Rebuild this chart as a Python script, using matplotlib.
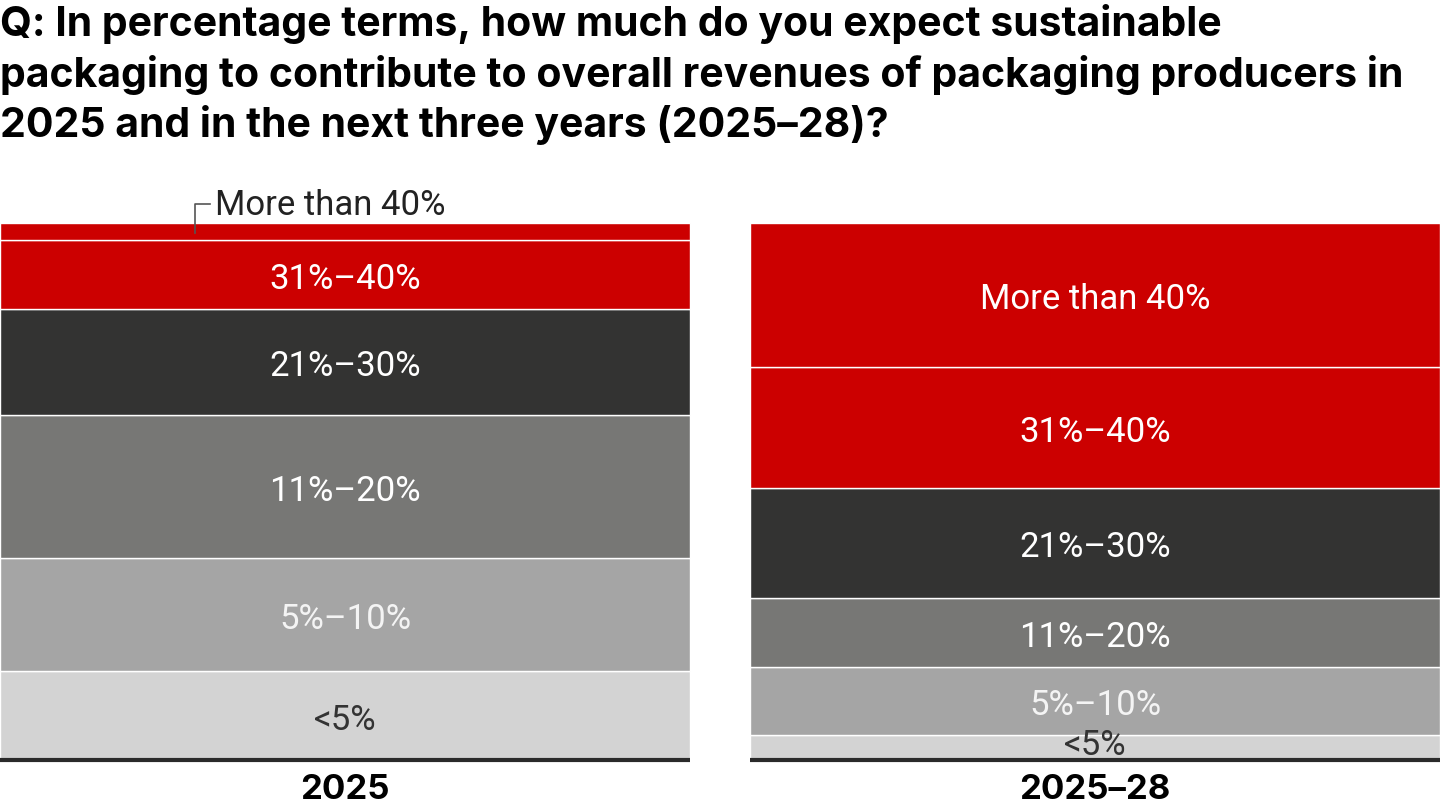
import matplotlib.pyplot as plt
import numpy as np

# survey shares (%), bottom to top
periods = ['2025', '2025–28']
bands = ['<5%', '5%–10%', '11%–20%', '21%–30%', '31%–40%', 'More than 40%']
share_2025 = [16.6, 21.1, 26.5, 19.8, 12.9, 3.1]
share_2025_28 = [4.6, 12.8, 12.7, 20.6, 22.5, 26.8]

colors = ['#d3d3d3', '#a5a5a5', '#777775', '#333332', '#cc0000', '#cc0000']
label_colors = ['#333333', '#f4f4f4', 'white', 'white', 'white', 'white']

title = ('Q: In percentage terms, how much do you expect sustainable\n'
         'packaging to contribute to overall revenues of packaging producers in\n'
         '2025 and in the next three years (2025–28)?')


def main():
    fig = plt.figure(figsize=(14.4, 8.1), dpi=100)
    ax = fig.add_axes([0, 50 / 810, 1, 537 / 810])

    data = np.array([share_2025, share_2025_28])
    x = np.arange(len(periods))
    width = 0.92
    bottoms = np.zeros(len(periods))

    for i, band in enumerate(bands):
        vals = data[:, i]
        ax.bar(x, vals, width, bottom=bottoms, color=colors[i],
               edgecolor='white', linewidth=1.0)
        for j in range(len(periods)):
            if vals[j] < 4:
                continue
            # thin slices: keep the label clear of the baseline
            nudge = 0.4 if vals[j] < 6 else -0.9
            ax.text(x[j], bottoms[j] + vals[j] / 2 + nudge, band,
                    ha='center', va='center', fontsize=25,
                    color=label_colors[i], family='Roboto')
        bottoms += vals

    # callout for the thin top slice of the first bar
    top_lo = data[0, :-1].sum()
    ax.plot([x[0] - 0.2, x[0] - 0.2, x[0] - 0.18],
            [top_lo + 1.2, 103.5, 103.5], color='#555555', lw=1.2,
            clip_on=False)
    ax.text(x[0] - 0.173, 103.3, bands[-1], ha='left', va='center',
            fontsize=25, color='#222222', family='Roboto')

    # baselines
    for xi in x:
        ax.plot([xi - width / 2, xi + width / 2], [0, 0], color='#2a2a2a',
                lw=3, solid_capstyle='butt', clip_on=False)
        ax.text(xi, -5.5, periods[int(xi)], ha='center', va='center',
                fontsize=25, fontweight='bold', family='Inter', color='black')

    ax.set_xlim(-0.46, 1.46)
    ax.set_ylim(0, 100)
    ax.axis('off')

    fig.text(0.0, 0.995, title, ha='left', va='top', fontsize=29.5,
             fontweight='bold', family='Inter', color='black', linespacing=1.33)

    fig.savefig('out.png', dpi=100)


if __name__ == '__main__':
    main()
